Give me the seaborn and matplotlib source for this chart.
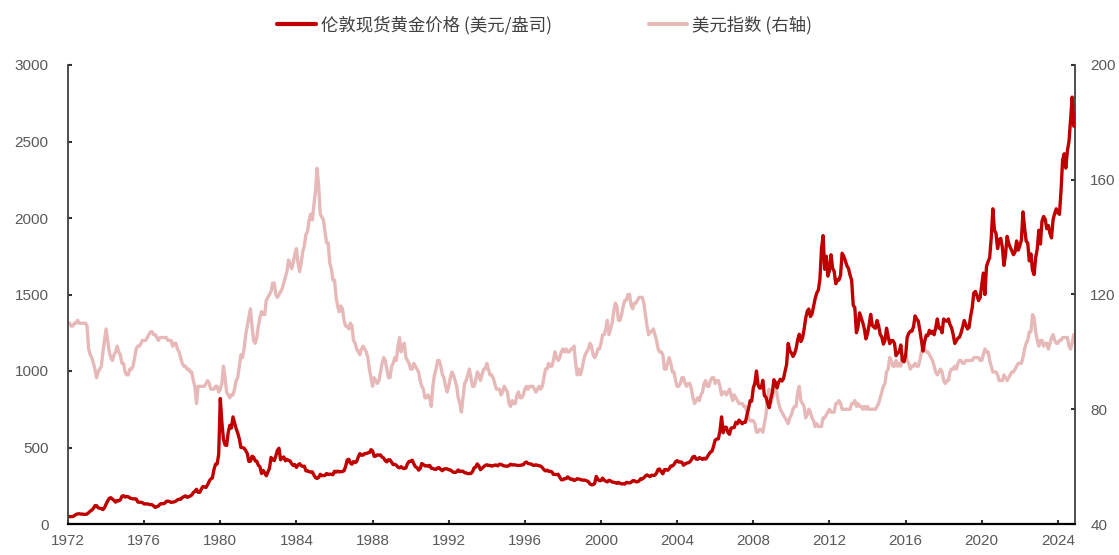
import numpy as np
import pandas as pd
import matplotlib
matplotlib.use("Agg")
import matplotlib.pyplot as plt
import seaborn as sns

# London spot gold, monthly (USD/oz), Jan 1972 - Nov 2024
gold_by_year = {
    1972: [48, 48, 48, 49, 54, 62, 66, 67, 65, 65, 63, 63],
    1973: [65, 74, 84, 91, 102, 120, 120, 106, 103, 100, 94, 106],
    1974: [130, 150, 168, 172, 163, 154, 143, 154, 151, 158, 181, 185],
    1975: [176, 180, 178, 170, 167, 164, 165, 163, 144, 142, 142, 139],
    1976: [131, 131, 132, 128, 127, 126, 118, 108, 114, 117, 130, 134],
    1977: [132, 136, 148, 149, 147, 141, 143, 145, 149, 158, 162, 161],
    1978: [173, 178, 184, 175, 177, 183, 189, 206, 213, 227, 207, 207],
    1979: [227, 245, 242, 239, 257, 279, 295, 301, 355, 391, 392, 456],
    1980: [820, 665, 554, 517, 513, 600, 645, 627, 700, 661, 623, 594],
    1981: [557, 500, 499, 496, 480, 461, 409, 410, 443, 437, 413, 410],
    1982: [384, 374, 330, 350, 334, 315, 339, 364, 435, 422, 414, 444],
    1983: [481, 495, 420, 432, 438, 413, 423, 416, 412, 394, 382, 388],
    1984: [370, 386, 394, 381, 377, 378, 347, 348, 341, 340, 341, 320],
    1985: [303, 298, 304, 325, 316, 317, 317, 330, 323, 326, 325, 322],
    1986: [345, 339, 346, 340, 342, 343, 348, 376, 418, 423, 398, 391],
    1987: [408, 401, 409, 438, 460, 450, 450, 461, 460, 465, 467, 486],
    1988: [477, 442, 444, 452, 451, 451, 437, 431, 413, 406, 420, 419],
    1989: [404, 388, 390, 384, 371, 367, 375, 365, 362, 367, 394, 409],
    1990: [410, 417, 393, 374, 369, 352, 362, 395, 389, 380, 381, 377],
    1991: [383, 364, 363, 358, 357, 367, 368, 356, 348, 359, 361, 361],
    1992: [354, 354, 345, 338, 337, 341, 353, 343, 345, 345, 335, 334],
    1993: [329, 330, 330, 342, 367, 372, 393, 379, 355, 364, 374, 383],
    1994: [387, 382, 384, 378, 381, 385, 385, 380, 391, 389, 384, 379],
    1995: [379, 377, 382, 391, 385, 387, 386, 383, 383, 383, 386, 387],
    1996: [400, 405, 396, 393, 392, 385, 383, 387, 383, 381, 378, 369],
    1997: [355, 347, 352, 344, 344, 341, 324, 324, 323, 325, 306, 289],
    1998: [289, 297, 296, 308, 299, 292, 293, 284, 289, 296, 294, 291],
    1999: [287, 287, 286, 282, 277, 262, 256, 257, 265, 311, 293, 283],
    2000: [284, 300, 286, 280, 275, 286, 282, 274, 273, 270, 266, 272],
    2001: [266, 262, 263, 261, 272, 270, 268, 273, 283, 283, 276, 276],
    2002: [282, 296, 294, 302, 314, 321, 314, 310, 319, 317, 319, 333],
    2003: [357, 359, 340, 328, 355, 356, 351, 360, 379, 379, 389, 407],
    2004: [414, 405, 406, 404, 384, 392, 398, 400, 406, 420, 439, 442],
    2005: [424, 423, 434, 429, 422, 430, 424, 438, 456, 470, 476, 510],
    2006: [549, 555, 557, 610, 700, 596, 633, 632, 598, 586, 627, 629],
    2007: [631, 665, 655, 679, 667, 655, 665, 665, 712, 754, 806, 803],
    2008: [889, 922, 1000, 909, 888, 890, 939, 839, 829, 790, 760, 816],
    2009: [858, 943, 924, 890, 928, 946, 934, 949, 996, 1043, 1180, 1134],
    2010: [1118, 1095, 1113, 1148, 1205, 1240, 1193, 1215, 1271, 1343, 1390, 1405],
    2011: [1356, 1372, 1424, 1473, 1510, 1529, 1600, 1800, 1885, 1665, 1750, 1620],
    2012: [1656, 1760, 1673, 1650, 1570, 1596, 1594, 1626, 1770, 1750, 1721, 1688],
    2013: [1670, 1627, 1593, 1430, 1414, 1250, 1286, 1380, 1349, 1316, 1275, 1210],
    2014: [1244, 1300, 1370, 1299, 1287, 1279, 1330, 1296, 1239, 1222, 1176, 1200],
    2015: [1280, 1227, 1179, 1198, 1199, 1181, 1100, 1117, 1125, 1170, 1070, 1060],
    2016: [1097, 1220, 1246, 1260, 1260, 1290, 1360, 1340, 1326, 1266, 1200, 1130],
    2017: [1192, 1234, 1231, 1266, 1246, 1260, 1237, 1283, 1340, 1280, 1283, 1250],
    2018: [1340, 1331, 1325, 1340, 1303, 1282, 1238, 1180, 1198, 1215, 1221, 1250],
    2019: [1291, 1330, 1300, 1275, 1284, 1359, 1413, 1510, 1520, 1495, 1460, 1480],
    2020: [1560, 1640, 1500, 1683, 1715, 1740, 1870, 2060, 1921, 1900, 1800, 1858],
    2021: [1867, 1808, 1690, 1760, 1880, 1834, 1807, 1785, 1760, 1777, 1850, 1790],
    2022: [1817, 1856, 2040, 1937, 1849, 1836, 1720, 1765, 1660, 1630, 1740, 1798],
    2023: [1920, 1830, 1980, 2010, 1992, 1930, 1951, 1900, 1870, 1990, 2030, 2060],
    2024: [2034, 2024, 2180, 2380, 2420, 2326, 2440, 2500, 2640, 2790, 2600],
}

# US dollar index (DXY), monthly, same span
dxy_by_year = {
    1972: [110, 110, 109, 109, 110, 110, 111, 110, 110, 110, 110, 110],
    1973: [109, 101, 99, 98, 96, 94, 91, 93, 94, 95, 100, 104],
    1974: [108, 104, 100, 98, 97, 99, 100, 102, 100, 99, 96, 96],
    1975: [93, 92, 92, 94, 94, 95, 98, 101, 102, 102, 103, 104],
    1976: [104, 104, 105, 106, 107, 107, 106, 106, 105, 104, 105, 105],
    1977: [105, 105, 105, 104, 104, 104, 102, 103, 103, 101, 100, 98],
    1978: [96, 95, 95, 94, 94, 93, 93, 90, 88, 82, 88, 88],
    1979: [88, 88, 88, 89, 90, 89, 87, 87, 87, 88, 88, 86],
    1980: [87, 89, 95, 91, 86, 85, 84, 85, 85, 87, 90, 91],
    1981: [95, 99, 98, 101, 106, 109, 112, 115, 109, 104, 103, 105],
    1982: [109, 112, 114, 113, 113, 118, 119, 120, 121, 124, 124, 120],
    1983: [119, 120, 121, 122, 124, 126, 128, 132, 131, 129, 131, 134],
    1984: [136, 131, 128, 131, 135, 137, 141, 142, 146, 148, 146, 151],
    1985: [156, 164, 158, 148, 147, 146, 142, 138, 138, 131, 129, 125],
    1986: [125, 119, 116, 114, 116, 115, 111, 109, 109, 108, 110, 109],
    1987: [104, 103, 101, 100, 99, 101, 102, 101, 100, 98, 94, 91],
    1988: [88, 91, 90, 89, 90, 93, 96, 98, 97, 94, 91, 91],
    1989: [95, 96, 98, 97, 102, 105, 100, 102, 103, 98, 97, 96],
    1990: [94, 94, 96, 95, 94, 93, 90, 88, 87, 84, 84, 85],
    1991: [84, 81, 88, 92, 94, 97, 97, 95, 92, 91, 88, 86],
    1992: [88, 91, 93, 92, 90, 88, 84, 82, 79, 84, 89, 90],
    1993: [92, 94, 91, 88, 88, 90, 93, 92, 90, 92, 94, 94],
    1994: [96, 94, 92, 92, 91, 89, 87, 87, 87, 85, 86, 88],
    1995: [87, 86, 82, 81, 83, 82, 82, 85, 86, 84, 84, 85],
    1996: [87, 88, 87, 88, 88, 88, 87, 86, 87, 88, 87, 88],
    1997: [91, 94, 94, 96, 95, 95, 97, 100, 98, 97, 98, 100],
    1998: [101, 100, 101, 100, 100, 101, 101, 102, 96, 92, 94, 92],
    1999: [94, 97, 99, 100, 101, 103, 102, 99, 98, 99, 101, 101],
    2000: [103, 106, 106, 108, 111, 106, 108, 110, 114, 117, 116, 111],
    2001: [111, 113, 116, 118, 118, 120, 120, 116, 115, 117, 117, 118],
    2002: [119, 119, 119, 117, 113, 109, 106, 107, 107, 108, 106, 104],
    2003: [101, 100, 100, 99, 94, 94, 96, 98, 96, 93, 93, 90],
    2004: [88, 88, 89, 91, 91, 89, 88, 89, 89, 87, 84, 82],
    2005: [83, 84, 83, 85, 86, 89, 90, 88, 88, 90, 91, 91],
    2006: [89, 90, 90, 88, 85, 86, 86, 85, 86, 87, 85, 83],
    2007: [85, 84, 83, 82, 82, 82, 81, 81, 79, 77, 76, 76],
    2008: [76, 75, 72, 72, 73, 73, 72, 75, 78, 84, 87, 82],
    2009: [84, 87, 88, 85, 82, 80, 79, 78, 77, 76, 75, 77],
    2010: [78, 80, 81, 81, 86, 88, 83, 82, 81, 77, 78, 80],
    2011: [79, 77, 76, 74, 75, 74, 74, 74, 77, 77, 78, 79],
    2012: [80, 79, 79, 79, 82, 82, 83, 82, 80, 80, 80, 80],
    2013: [80, 80, 82, 82, 83, 81, 82, 81, 81, 80, 81, 80],
    2014: [81, 80, 80, 80, 80, 80, 81, 82, 84, 86, 88, 89],
    2015: [93, 94, 98, 97, 95, 95, 97, 95, 96, 95, 99, 98],
    2016: [99, 97, 96, 94, 95, 95, 96, 95, 95, 97, 100, 102],
    2017: [101, 100, 100, 99, 98, 97, 95, 93, 92, 93, 94, 93],
    2018: [90, 89, 90, 90, 93, 94, 94, 95, 94, 96, 97, 97],
    2019: [96, 96, 97, 97, 97, 97, 97, 98, 98, 98, 98, 97],
    2020: [97, 99, 101, 100, 100, 97, 95, 93, 93, 93, 92, 90],
    2021: [90, 90, 92, 91, 90, 91, 92, 93, 93, 94, 95, 96],
    2022: [96, 96, 98, 101, 103, 104, 107, 107, 113, 112, 107, 104],
    2023: [102, 104, 104, 102, 103, 103, 101, 103, 105, 106, 104, 103],
    2024: [103, 104, 104, 105, 105, 105, 105, 102, 101, 103, 106],
}

x_tick_years = list(range(1972, 2025, 4))
left_ticks = [0, 500, 1000, 1500, 2000, 2500, 3000]
right_ticks = [40, 80, 120, 160, 200]

gold_label = "伦敦现货黄金价格 (美元/盎司)"
dxy_label = "美元指数 (右轴)"


def to_frame(by_year, name):
    rows = []
    for year, vals in by_year.items():
        for m, v in enumerate(vals):
            rows.append({"t": year + m / 12.0, name: v})
    return pd.DataFrame(rows)


gold_df = to_frame(gold_by_year, "gold")
dxy_df = to_frame(dxy_by_year, "dxy")

sns.set_theme(style="white")
plt.rcParams["font.family"] = ["Liberation Sans", "Noto Sans CJK SC", "DejaVu Sans"]

GOLD_C = "#C00000"
DXY_C = "#E6B9B8"
TXT_C = "#595959"

fig = plt.figure(figsize=(11.19, 5.55), dpi=100)
ax = fig.add_axes([68 / 1119, 31 / 555, (1075 - 68) / 1119, (524 - 65) / 555])
ax2 = ax.twinx()

# dollar index on the secondary axis, gold drawn on top of it
sns.lineplot(data=dxy_df, x="t", y="dxy", ax=ax2, color=DXY_C, linewidth=2.4,
             legend=False)
sns.lineplot(data=gold_df, x="t", y="gold", ax=ax, color=GOLD_C, linewidth=2.4,
             legend=False)
ax.set_zorder(ax2.get_zorder() + 1)
ax.patch.set_visible(False)

ax.set_xlim(1972, 2024.9)
ax.set_ylim(0, 3000)
ax2.set_ylim(40, 200)
ax.set_xticks(x_tick_years)
ax.set_xticklabels([str(y) for y in x_tick_years])
ax.set_yticks(left_ticks)
ax.set_yticklabels([str(v) for v in left_ticks])
ax2.set_yticks(right_ticks)
ax2.set_yticklabels([str(v) for v in right_ticks])
ax.set_xlabel("")
ax.set_ylabel("")
ax2.set_ylabel("")

for a in (ax, ax2):
    a.grid(False)
    a.spines["top"].set_visible(False)
    for s in ("left", "right", "bottom"):
        a.spines[s].set_color("#404040")
        a.spines[s].set_linewidth(1.3)
ax.spines["bottom"].set_color("black")
ax.spines["bottom"].set_linewidth(1.6)
ax.spines["right"].set_visible(False)
ax2.spines["left"].set_visible(False)
ax2.spines["bottom"].set_visible(False)

ax.tick_params(axis="x", direction="in", length=3, width=1.5, color="#333333",
               labelsize=11, labelcolor=TXT_C, pad=7, bottom=True)
ax.tick_params(axis="y", direction="in", length=3, width=1.5, color="#333333",
               labelsize=11, labelcolor=TXT_C, pad=14, left=True)
ax2.tick_params(axis="y", direction="in", length=3, width=1.5, color="#333333",
                labelsize=11, labelcolor=TXT_C, pad=11, right=True)

handles = [plt.Line2D([], [], color=GOLD_C, linewidth=3),
           plt.Line2D([], [], color=DXY_C, linewidth=3)]
fig.legend(handles, [gold_label, dxy_label], loc="upper center",
           bbox_to_anchor=(0.487, 1.0), ncol=2, frameon=False,
           handlelength=2.2, handletextpad=0.3, columnspacing=5.6,
           prop={"family": ["Noto Sans CJK SC", "DejaVu Sans"], "size": 12.5},
           labelcolor="#404040")

fig.savefig("out.png", dpi=100)
